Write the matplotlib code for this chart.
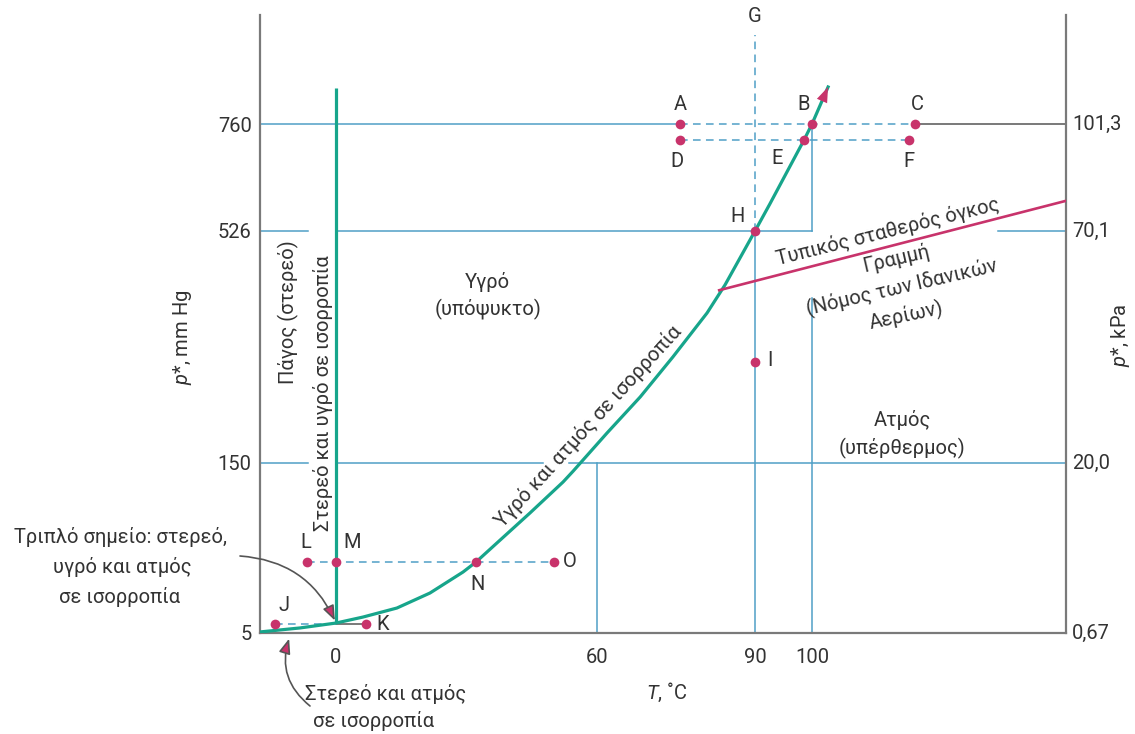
import numpy as np
import matplotlib
matplotlib.use('Agg')
import matplotlib.pyplot as plt

plt.rcParams['font.family'] = ['Roboto', 'DejaVu Sans']
plt.rcParams['mathtext.fontset'] = 'custom'
plt.rcParams['mathtext.it'] = 'Roboto:italic'
plt.rcParams['mathtext.rm'] = 'Roboto'

# ---------------- data ----------------
T_ticks = [0, 60, 90, 100]
T_tick_labels = ['0', '60', '90', '100']
p_ticks = [5, 150, 526, 760]
p_tick_labels = ['5', '150', '526', '760']
kpa_tick_labels = ['0,67', '20,0', '70,1', '101,3']

# vapour-pressure curve (liquid-vapour / solid-vapour)
curve_T = [-20, -9.5, 0, 6.2, 14.0, 21.6, 29.2, 32.2, 37.0, 44.6, 52.2, 54.5,
           61.9, 68.2, 74.4, 80.9, 84.3, 90, 92.6, 98.6, 100, 101.9]
curve_p = [5.9, 9.3, 13.5, 18.6, 26.3, 39.1, 57.0, 65.6, 81.8, 107.4, 133.8, 143.0,
           198.6, 257.0, 321.8, 393.2, 438.5, 526, 585.0, 725, 760, 841.5]

# solid-liquid line
melt_T = [0, 0]
melt_p = [13.5, 839]

# constant-volume (ideal gas) line
gas_T = [83.2, 130]
gas_p = [430, 592]

point_names = ['A', 'B', 'C', 'D', 'E', 'F', 'H', 'I', 'J', 'K', 'L', 'M', 'N', 'O']
point_T = [75.8, 100, 112.2, 75.8, 98.6, 111.4, 90, 90, -16, 6.9, -7.6, 0, 32.2, 50.1]
point_p = [760, 760, 760, 725, 725, 725, 526, 314, 12.7, 12.7, 65.6, 65.6, 65.6, 65.6]
triple_T, triple_p = 0, 13.5

# ---------------- styling ----------------
BLUE = '#4f9fc6'
GREEN = '#17a58b'
MAG = '#c8336b'
GRAY = '#7a7a7a'
DARK = '#555555'
TXT = '#333333'
FS = 14.5

W, H = 1135, 734
L, R, B, TOP = 260, 1066, 633, 15
fig = plt.figure(figsize=(W / 100, H / 100), dpi=100)
ax = fig.add_axes([L / W, 1 - B / H, (R - L) / W, (B - TOP) / H])

# schematic (piece-wise linear) axis scales
Tk = np.array([-20, 0, 60, 90, 100, 130.])
Tpos = np.array([0, 76, 337, 495, 552, 806.])
pk = np.array([5, 150, 526, 760, 1000.])
ppos = np.array([0, 170, 402, 509, 618.])


def make(xk, yk):
    s0 = (yk[1] - yk[0]) / (xk[1] - xk[0])
    s1 = (yk[-1] - yk[-2]) / (xk[-1] - xk[-2])

    def f(v):
        v = np.asarray(v, float)
        out = np.interp(v, xk, yk)
        out = np.where(v < xk[0], yk[0] + (v - xk[0]) * s0, out)
        out = np.where(v > xk[-1], yk[-1] + (v - xk[-1]) * s1, out)
        return out
    return f


ax.set_xscale('function', functions=(make(Tk, Tpos), make(Tpos, Tk)))
ax.set_yscale('function', functions=(make(pk, ppos), make(ppos, pk)))
ax.set_xlim(-20, 130)
ax.set_ylim(5, 1000)

for s in ['left', 'right', 'bottom']:
    ax.spines[s].set_color(GRAY)
    ax.spines[s].set_linewidth(1.6)
ax.spines['top'].set_visible(False)

ax.set_xticks(T_ticks, T_tick_labels)
ax.set_yticks(p_ticks, p_tick_labels)
ax.tick_params(axis='x', length=0, pad=11, labelsize=FS, labelcolor=TXT)
ax.tick_params(axis='y', length=0, pad=6, labelsize=FS, labelcolor=TXT)
ax.minorticks_off()
for p, lab in zip(p_ticks, kpa_tick_labels):
    ax.text(1 + 6 / (R - L), p, lab, transform=ax.get_yaxis_transform(),
            ha='left', va='center', fontsize=FS, color=TXT)

bl = dict(color=BLUE, lw=1.1, zorder=2)
bd = dict(color=BLUE, lw=1.1, ls=(0, (5, 3.5)), zorder=2)
A_T, C_T, D_T, F_T = point_T[0], point_T[2], point_T[3], point_T[5]
pDF = point_p[3]
# 760 line
ax.plot([-20, A_T], [760, 760], **bl)
ax.plot([A_T, C_T], [760, 760], **bd)
ax.plot([C_T, 130], [760, 760], color=DARK, lw=1.1, zorder=2)
ax.plot([D_T, F_T], [pDF, pDF], **bd)
# 526 line
ax.plot([-20, -7.4], [526, 526], **bl)
ax.plot([0, 100], [526, 526], **bl)
ax.plot([122, 130], [526, 526], **bl)
# 150 line
ax.plot([-20, -7.4], [150, 150], **bl)
ax.plot([0, 47.6], [150, 150], **bl)
ax.plot([53.5, 130], [150, 150], **bl)
# verticals
ax.plot([60, 60], [5, 150], **bl)
ax.plot([90, 90], [5, 526], **bl)
ax.plot([90, 90], [526, 956], **bd)
ax.plot([100, 100], [526, 760], **bl)
ax.plot([100, 100], [5, 417.5], **bl)
# L-O dashed
ax.plot([point_T[10], point_T[13]], [point_p[10]] * 2, **bd)
# J dashed and K gray
ax.plot([point_T[8], triple_T], [point_p[8]] * 2, **bd)
ax.plot([triple_T, point_T[9]], [point_p[9]] * 2, color=DARK, lw=1.1, zorder=2)

# green curves
ax.plot(melt_T, melt_p, color=GREEN, lw=2.3, zorder=3, solid_capstyle='butt')
ax.plot(curve_T[:-1], curve_p[:-1], color=GREEN, lw=2.3, zorder=3,
        solid_joinstyle='round')
ax.plot(curve_T[-2:], curve_p[-2:], color=GREEN, lw=2.3, zorder=3)
ax.annotate('', xy=(curve_T[-1], curve_p[-1]), xytext=(curve_T[-2], curve_p[-2]),
            arrowprops=dict(arrowstyle='-|>,head_length=1.1,head_width=0.4',
                            mutation_scale=10, shrinkA=0, shrinkB=0,
                            fc=MAG, ec='none', lw=0), zorder=4)

# red constant-volume line
ax.plot(gas_T, gas_p, color=MAG, lw=1.9, zorder=3)

# points
ax.plot(point_T, point_p, 'o', color=MAG, ms=7, mec='none', zorder=5)

# point labels (offset in pixels: dx right, dy down)
offs = {'A': (0, -20), 'B': (-8, -20), 'C': (2, -20), 'D': (-3, 21), 'E': (-27, 18),
        'F': (0, 21), 'H': (-17, -14), 'I': (15, -1), 'J': (9, -18), 'K': (17, 1),
        'L': (-1, -19), 'M': (16, -19), 'N': (1, 23), 'O': (16, 0)}
for n, t, p in zip(point_names, point_T, point_p):
    dx, dy = offs[n]
    ax.annotate(n, (t, p), xytext=(dx, -dy), textcoords='offset pixels',
                ha='center', va='center', fontsize=FS, color=TXT, zorder=6)


def ftxt(px, py, s, **kw):
    kw.setdefault('fontsize', FS)
    kw.setdefault('color', TXT)
    kw.setdefault('ha', 'center')
    kw.setdefault('va', 'center')
    return fig.text(px / W, 1 - py / H, s, **kw)


ftxt(755, 17, 'G')
ftxt(288, 312, 'Πάγος (στερεό)', rotation=90)
ftxt(323, 393, 'Στερεό και υγρό σε ισορροπία', rotation=90)
ftxt(487, 282, 'Υγρό')
ftxt(488, 309, '(υπόψυκτο)')
ftxt(588, 426, 'Υγρό και ατμός σε ισορροπία', rotation=47.5, rotation_mode='anchor')
ftxt(888, 232, 'Τυπικός σταθερός όγκος', rotation=14, rotation_mode='anchor')
ftxt(896, 259, 'Γραμμή', rotation=13, rotation_mode='anchor')
ftxt(902, 288, '(Νόμος των Ιδανικών', rotation=13, rotation_mode='anchor')
ftxt(906, 316, 'Αερίων)', rotation=12, rotation_mode='anchor')
ftxt(902, 420, 'Ατμός')
ftxt(902, 448, '(υπέρθερμος)')

ftxt(183, 337, r'$\mathit{p}$*, mm Hg', rotation=90)
ftxt(1121, 335, r'$\mathit{p}$*, kPa', rotation=90)
ftxt(667, 692, r'$\mathit{T}$, ˚C')

ftxt(121, 537, 'Τριπλό σημείο: στερεό,')
ftxt(122, 567, 'υγρό και ατμός')
ftxt(120, 597, 'σε ισορροπία')
ftxt(386, 694, 'Στερεό και ατμός')
ftxt(374, 721, 'σε ισορροπία')

arrow_kw = dict(arrowstyle='-|>,head_length=0.9,head_width=0.35', mutation_scale=10,
                fc=MAG, ec=DARK, lw=1.2, shrinkA=0, shrinkB=2)
ax.annotate('', xy=(triple_T, triple_p), xytext=(240 / W, 1 - 556 / H),
            textcoords='figure fraction',
            arrowprops=dict(connectionstyle='arc3,rad=-0.3', **arrow_kw), zorder=6)
ax.annotate('', xy=(290 / W, 1 - 636 / H), xycoords='figure fraction',
            xytext=(310 / W, 1 - 706 / H), textcoords='figure fraction',
            arrowprops=dict(connectionstyle='arc3,rad=-0.35', **arrow_kw), zorder=6,
            annotation_clip=False)

fig.savefig('out.png', dpi=100)
